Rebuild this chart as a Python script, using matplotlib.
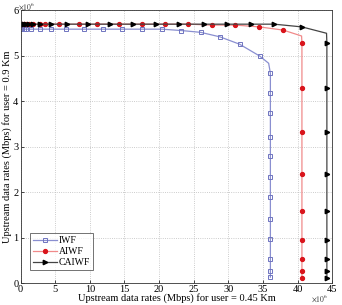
import numpy as np
import matplotlib.pyplot as plt

# --- Data (in units of 10^6) ---
iwf_x = [0, 0.25, 0.5, 0.8, 1.55, 2.85, 4.4, 6.5, 9.1, 11.9, 14.6, 17.5, 20.4, 23.2, 26.0, 28.8, 31.6, 34.5,
         35.8, 36.05, 36.05, 36.05, 36.05, 36.05, 36.05, 36.05, 36.05, 36.05, 36.05, 36.05, 36.05]
iwf_y = [5.58, 5.58, 5.58, 5.58, 5.58, 5.58, 5.58, 5.58, 5.58, 5.58, 5.58, 5.58, 5.58, 5.55, 5.51, 5.41, 5.25, 4.99,
         4.83, 4.61, 4.18, 3.74, 3.21, 2.79, 2.33, 1.89, 1.41, 0.97, 0.53, 0.26, 0.13]

aiwf_x = [0, 0.25, 0.5, 0.8, 1.2, 1.8, 2.8, 3.6, 5.55, 8.45, 11.1, 14.2, 17.5, 20.9, 24.2, 27.6, 31.0, 34.45, 37.9,
          40.55, 40.6, 40.6, 40.6, 40.6, 40.6, 40.6, 40.6, 40.6, 40.6]
aiwf_y = [5.69, 5.69, 5.69, 5.69, 5.69, 5.69, 5.69, 5.69, 5.69, 5.69, 5.69, 5.69, 5.69, 5.69, 5.69, 5.67, 5.67, 5.63, 5.56,
          5.43, 5.27, 4.28, 3.31, 2.40, 1.58, 0.95, 0.53, 0.26, 0.12]

caiwf_x = [0, 0.25, 0.5, 0.8, 1.2, 1.8, 2.8, 4.4, 6.7, 9.7, 12.9, 16.3, 19.6, 22.9, 26.4, 29.8, 33.2, 36.6, 40.6,
           44.15, 44.2, 44.2, 44.2, 44.2, 44.2, 44.2, 44.2, 44.2, 44.2]
caiwf_y = [5.69, 5.69, 5.69, 5.69, 5.69, 5.69, 5.69, 5.69, 5.69, 5.69, 5.69, 5.69, 5.69, 5.69, 5.69, 5.69, 5.69, 5.69, 5.63,
           5.49, 5.27, 4.28, 3.31, 2.40, 1.58, 0.95, 0.53, 0.26, 0.12]

# bend points (no marker drawn there)
corner_iwf = 18
corner_aiwf = 19
corner_caiwf = 19

x_ticks = [0, 5, 10, 15, 20, 25, 30, 35, 40, 45]
y_ticks = [0, 1, 2, 3, 4, 5, 6]

plt.rcParams['font.family'] = ['Liberation Serif', 'DejaVu Serif']
plt.rcParams['mathtext.fontset'] = 'stix'

fig = plt.figure(figsize=(3.42, 3.05), dpi=100)
ax = fig.add_axes([0.06, 0.072, 0.912, 0.895])


def mk(n, skip):
    return [i for i in range(n) if i != skip]


ax.plot(iwf_x, iwf_y, color='#8a8fd0', lw=0.9,
        marker='s', ms=2.8, mfc='none', mec='#6f74c0', mew=0.7,
        markevery=mk(len(iwf_x), corner_iwf), label='IWF')
ax.plot(aiwf_x, aiwf_y, color='#f08a8a', lw=0.9,
        marker='o', ms=2.8, mfc='#d9141b', mec='#d9141b',
        markevery=mk(len(aiwf_x), corner_aiwf), label='AIWF')
ax.plot(caiwf_x, caiwf_y, color='#444444', lw=0.9,
        marker='>', ms=3.2, mfc='black', mec='black',
        markevery=mk(len(caiwf_x), corner_caiwf), label='CAIWF')

ax.set_xlim(0, 45)
ax.set_ylim(0, 6)
ax.set_xticks(x_ticks)
ax.set_yticks(y_ticks)

ax.tick_params(labelsize=7.5, direction='in', length=2, width=0.5, pad=1.5)
ax.grid(True, linestyle=':', color='#bbbbbb', lw=0.6)
for s in ax.spines.values():
    s.set_linewidth(0.6)
    s.set_color('#333333')

# scale factors
fig.text(0.053, 0.999, r'$\times 10^6$', fontsize=5.5, ha='left', va='top', color='#333333')
fig.text(0.958, 0.003, r'$\times 10^6$', fontsize=5.5, ha='right', va='bottom', color='#333333')

ax.set_xlabel('Upstream data rates (Mbps) for user = 0.45 Km', fontsize=7.5, labelpad=-1)
ax.set_ylabel('Upstream data rates (Mbps) for user = 0.9 Km', fontsize=7.5, labelpad=1)

leg = ax.legend(loc='lower left', bbox_to_anchor=(0.025, 0.04), fontsize=7, frameon=True,
                fancybox=False, edgecolor='#333333', handlelength=2.4, borderpad=0.3,
                labelspacing=0.2, handletextpad=0.2, borderaxespad=0.2)
leg.get_frame().set_linewidth(0.6)

fig.savefig('out.png', dpi=100)
